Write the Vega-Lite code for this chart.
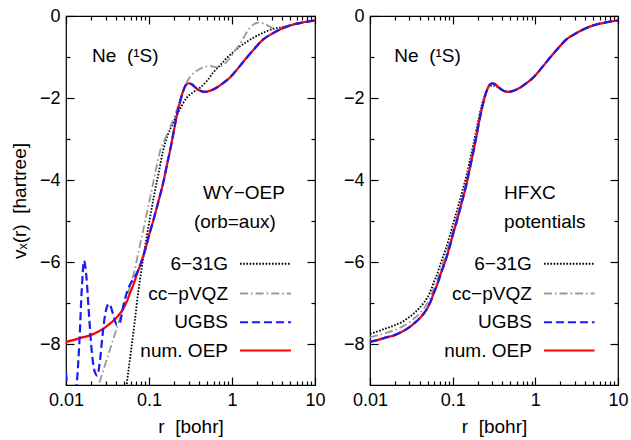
{
  "$schema": "https://vega.github.io/schema/vega-lite/v6.json",
  "padding": {"left": 9, "top": 6, "right": 5, "bottom": 5},
  "spacing": 16,
  "config": {
    "view": {"stroke": "black", "strokeWidth": 1.2},
    "axis": {"labelFont": "Liberation Sans", "labelFontSize": 18, "labelColor": "black", "titleFont": "Liberation Sans", "titleFontSize": 19, "titleFontWeight": "normal", "titleColor": "black", "domain": false, "grid": false, "tickColor": "black", "tickWidth": 1.2, "labelFlush": false, "labelOverlap": false},
    "text": {"font": "Liberation Sans", "fontSize": 19, "color": "black"}
  },
  "datasets": {
    "OEP": [
      {"r":0.01,"v":-7.95},{"r":0.0125,"v":-7.90},{"r":0.015,"v":-7.85},{"r":0.0195,"v":-7.79},{"r":0.025,"v":-7.69},{"r":0.03,"v":-7.59},{"r":0.035,"v":-7.48},{"r":0.04,"v":-7.37},{"r":0.045,"v":-7.25},{"r":0.049,"v":-7.14},{"r":0.055,"v":-6.93},{"r":0.059,"v":-6.76},{"r":0.065,"v":-6.55},{"r":0.072,"v":-6.28},{"r":0.0817,"v":-5.97},{"r":0.092,"v":-5.63},{"r":0.1,"v":-5.35},{"r":0.113,"v":-4.98},{"r":0.13,"v":-4.52},{"r":0.149,"v":-4.05},{"r":0.165,"v":-3.62},{"r":0.179,"v":-3.29},{"r":0.196,"v":-2.88},{"r":0.215,"v":-2.45},{"r":0.236,"v":-2.10},{"r":0.255,"v":-1.86},{"r":0.275,"v":-1.70},{"r":0.3,"v":-1.64},{"r":0.33,"v":-1.67},{"r":0.37,"v":-1.76},{"r":0.42,"v":-1.83},{"r":0.47,"v":-1.85},{"r":0.55,"v":-1.82},{"r":0.65,"v":-1.75},{"r":0.78,"v":-1.64},{"r":0.946,"v":-1.50},{"r":1.2,"v":-1.26},{"r":1.5,"v":-1.02},{"r":1.9,"v":-0.78},{"r":2.38,"v":-0.57},{"r":3.0,"v":-0.44},{"r":3.79,"v":-0.33},{"r":5.0,"v":-0.23},{"r":7.0,"v":-0.16},{"r":10,"v":-0.11}
    ],
    "LUGBS": [
      {"r":0.01,"v":-8.70},{"r":0.0104,"v":-9.1},{"r":0.011,"v":-9.5},{"r":0.0118,"v":-9.65},{"r":0.0127,"v":-9.4},{"r":0.0135,"v":-8.95},{"r":0.0145,"v":-7.95},{"r":0.0155,"v":-6.65},{"r":0.0165,"v":-5.97},{"r":0.0176,"v":-6.35},{"r":0.0188,"v":-7.2},{"r":0.0204,"v":-8.16},{"r":0.022,"v":-8.65},{"r":0.0238,"v":-8.77},{"r":0.0255,"v":-8.45},{"r":0.0275,"v":-7.8},{"r":0.0298,"v":-7.25},{"r":0.033,"v":-7.02},{"r":0.037,"v":-7.27},{"r":0.0408,"v":-7.53},{"r":0.0445,"v":-7.48},{"r":0.049,"v":-7.07},{"r":0.055,"v":-6.70},{"r":0.0619,"v":-6.48},{"r":0.0678,"v":-6.35},{"r":0.075,"v":-6.18},{"r":0.0817,"v":-5.97},{"r":0.092,"v":-5.63},{"r":0.1,"v":-5.35},{"r":0.113,"v":-4.98},{"r":0.13,"v":-4.52},{"r":0.149,"v":-4.05},{"r":0.165,"v":-3.62},{"r":0.179,"v":-3.29},{"r":0.196,"v":-2.88},{"r":0.215,"v":-2.45},{"r":0.236,"v":-2.10},{"r":0.255,"v":-1.86},{"r":0.275,"v":-1.70},{"r":0.3,"v":-1.64},{"r":0.33,"v":-1.67},{"r":0.37,"v":-1.76},{"r":0.42,"v":-1.83},{"r":0.47,"v":-1.85},{"r":0.55,"v":-1.82},{"r":0.65,"v":-1.75},{"r":0.78,"v":-1.64},{"r":0.946,"v":-1.50},{"r":1.2,"v":-1.26},{"r":1.5,"v":-1.02},{"r":1.9,"v":-0.78},{"r":2.38,"v":-0.57},{"r":3.0,"v":-0.44},{"r":3.79,"v":-0.33},{"r":5.0,"v":-0.23},{"r":7.0,"v":-0.16},{"r":10,"v":-0.11}
    ],
    "LVQZ": [
      {"r":0.022,"v":-9.3},{"r":0.0245,"v":-9.02},{"r":0.03,"v":-8.47},{"r":0.04,"v":-7.67},{"r":0.05,"v":-7.06},{"r":0.0619,"v":-6.46},{"r":0.0647,"v":-6.33},{"r":0.075,"v":-5.74},{"r":0.0938,"v":-4.83},{"r":0.113,"v":-4.05},{"r":0.136,"v":-3.29},{"r":0.16,"v":-2.95},{"r":0.179,"v":-2.72},{"r":0.21,"v":-2.36},{"r":0.236,"v":-2.07},{"r":0.26,"v":-1.82},{"r":0.285,"v":-1.62},{"r":0.33,"v":-1.43},{"r":0.411,"v":-1.29},{"r":0.543,"v":-1.22},{"r":0.65,"v":-1.25},{"r":0.75,"v":-1.22},{"r":0.85,"v":-1.13},{"r":0.946,"v":-1.02},{"r":1.1,"v":-0.83},{"r":1.31,"v":-0.61},{"r":1.5,"v":-0.40},{"r":1.73,"v":-0.24},{"r":2.07,"v":-0.16},{"r":2.4,"v":-0.18},{"r":2.74,"v":-0.24},{"r":3.1,"v":-0.30},{"r":3.45,"v":-0.33},{"r":4.0,"v":-0.29},{"r":5.0,"v":-0.23},{"r":7.0,"v":-0.16},{"r":10,"v":-0.11}
    ],
    "L631": [
      {"r":0.05,"v":-9.6},{"r":0.0538,"v":-9.0},{"r":0.06,"v":-8.25},{"r":0.0678,"v":-7.40},{"r":0.0743,"v":-6.72},{"r":0.078,"v":-6.42},{"r":0.085,"v":-5.92},{"r":0.093,"v":-5.43},{"r":0.103,"v":-4.91},{"r":0.115,"v":-4.38},{"r":0.13,"v":-3.85},{"r":0.146,"v":-3.33},{"r":0.165,"v":-2.95},{"r":0.196,"v":-2.60},{"r":0.235,"v":-2.28},{"r":0.285,"v":-1.99},{"r":0.34,"v":-1.86},{"r":0.411,"v":-1.75},{"r":0.5,"v":-1.58},{"r":0.593,"v":-1.38},{"r":0.72,"v":-1.20},{"r":0.86,"v":-1.03},{"r":1.05,"v":-0.87},{"r":1.25,"v":-0.74},{"r":1.5,"v":-0.63},{"r":1.81,"v":-0.53},{"r":2.2,"v":-0.44},{"r":2.62,"v":-0.37},{"r":3.2,"v":-0.31},{"r":4.0,"v":-0.27},{"r":5.0,"v":-0.23},{"r":7.0,"v":-0.16},{"r":10,"v":-0.11}
    ],
    "RVQZ": [
      {"r":0.01,"v":-7.84},{"r":0.0125,"v":-7.79},{"r":0.015,"v":-7.74},{"r":0.0195,"v":-7.67},{"r":0.025,"v":-7.57},{"r":0.03,"v":-7.47},{"r":0.035,"v":-7.36},{"r":0.04,"v":-7.25},{"r":0.045,"v":-7.13},{"r":0.049,"v":-7.02},{"r":0.055,"v":-6.81},{"r":0.059,"v":-6.64},{"r":0.065,"v":-6.43},{"r":0.072,"v":-6.16},{"r":0.0817,"v":-5.85},{"r":0.092,"v":-5.51},{"r":0.1,"v":-5.24},{"r":0.113,"v":-4.87},{"r":0.13,"v":-4.42},{"r":0.149,"v":-3.96},{"r":0.165,"v":-3.54},{"r":0.179,"v":-3.21},{"r":0.196,"v":-2.81},{"r":0.215,"v":-2.39},{"r":0.236,"v":-2.06},{"r":0.255,"v":-1.84},{"r":0.275,"v":-1.71},{"r":0.3,"v":-1.67},{"r":0.33,"v":-1.69},{"r":0.37,"v":-1.77},{"r":0.42,"v":-1.83},{"r":0.47,"v":-1.85},{"r":0.55,"v":-1.82},{"r":0.65,"v":-1.75},{"r":0.78,"v":-1.64},{"r":0.946,"v":-1.50},{"r":1.2,"v":-1.26},{"r":1.5,"v":-1.02},{"r":1.9,"v":-0.78},{"r":2.38,"v":-0.57},{"r":3.0,"v":-0.44},{"r":3.79,"v":-0.33},{"r":5.0,"v":-0.23},{"r":7.0,"v":-0.16},{"r":10,"v":-0.11}
    ],
    "R631": [
      {"r":0.01,"v":-7.75},{"r":0.0125,"v":-7.69},{"r":0.015,"v":-7.63},{"r":0.0195,"v":-7.55},{"r":0.025,"v":-7.45},{"r":0.03,"v":-7.34},{"r":0.035,"v":-7.23},{"r":0.04,"v":-7.11},{"r":0.045,"v":-6.99},{"r":0.049,"v":-6.88},{"r":0.055,"v":-6.67},{"r":0.059,"v":-6.50},{"r":0.065,"v":-6.29},{"r":0.072,"v":-6.02},{"r":0.0817,"v":-5.71},{"r":0.092,"v":-5.37},{"r":0.1,"v":-5.11},{"r":0.113,"v":-4.74},{"r":0.13,"v":-4.29},{"r":0.149,"v":-3.84},{"r":0.165,"v":-3.43},{"r":0.179,"v":-3.11},{"r":0.196,"v":-2.72},{"r":0.215,"v":-2.33},{"r":0.236,"v":-2.03},{"r":0.255,"v":-1.84},{"r":0.275,"v":-1.73},{"r":0.3,"v":-1.70},{"r":0.33,"v":-1.71},{"r":0.37,"v":-1.77},{"r":0.42,"v":-1.83},{"r":0.47,"v":-1.85},{"r":0.55,"v":-1.82},{"r":0.65,"v":-1.75},{"r":0.78,"v":-1.64},{"r":0.946,"v":-1.50},{"r":1.2,"v":-1.26},{"r":1.5,"v":-1.02},{"r":1.9,"v":-0.78},{"r":2.38,"v":-0.57},{"r":3.0,"v":-0.44},{"r":3.79,"v":-0.33},{"r":5.0,"v":-0.23},{"r":7.0,"v":-0.16},{"r":10,"v":-0.11}
    ],
    "key": [
      {"s":"631G","lab":"6−31G","v":-6.04},
      {"s":"VQZ","lab":"cc−pVQZ","v":-6.77},
      {"s":"UGBS","lab":"UGBS","v":-7.47},
      {"s":"OEP","lab":"num. OEP","v":-8.16}
    ],
    "notesL": [
      {"t":"Ne\u00a0\u00a0(¹S)","r":0.0206,"v":-0.97},
      {"t":"WY−OEP","r":0.448,"v":-4.31},
      {"t":"(orb=aux)","r":0.348,"v":-5.03}
    ],
    "notesR": [
      {"t":"Ne\u00a0\u00a0(¹S)","r":0.0197,"v":-0.97},
      {"t":"HFXC","r":0.419,"v":-4.31},
      {"t":"potentials","r":0.419,"v":-5.03}
    ]
  },
  "hconcat": [
    {
      "width": 249, "height": 369,
      "resolve": {"axis": {"x": "independent", "y": "independent"}},
      "layer": [
        {"data": {"name": "L631"}, "mark": {"type": "line", "clip": true, "color": "black", "strokeWidth": 1.8, "strokeDash": [1.6, 1.6], "interpolate": "monotone"},
         "encoding": {
           "x": {"field": "r", "type": "quantitative", "scale": {"type": "log", "domain": [0.01, 10], "nice": false}, "axis": {"orient": "bottom", "values": [0.01, 0.1, 1, 10], "format": "~g", "tickSize": -8, "labelPadding": 14, "title": "r\u00a0\u00a0[bohr]", "titlePadding": 8}},
           "y": {"field": "v", "type": "quantitative", "scale": {"domain": [-9, 0], "nice": false, "zero": false}, "axis": {"orient": "left", "values": [0, -2, -4, -6, -8], "format": "d", "tickSize": -8, "labelPadding": 14, "title": "vₓ(r)\u00a0\u00a0[hartree]", "titlePadding": 10}}}},
        {"data": {"name": "LVQZ"}, "mark": {"type": "line", "clip": true, "color": "#999999", "strokeWidth": 1.8, "strokeDash": [8, 3, 1.6, 3], "interpolate": "monotone"},
         "encoding": {
           "x": {"field": "r", "type": "quantitative", "scale": {"type": "log", "domain": [0.01, 10], "nice": false}, "axis": {"orient": "bottom", "values": [0.02,0.03,0.04,0.05,0.06,0.07,0.08,0.09,0.2,0.3,0.4,0.5,0.6,0.7,0.8,0.9,2,3,4,5,6,7,8,9], "labels": false, "tickSize": -4, "title": null}},
           "y": {"field": "v", "type": "quantitative", "scale": {"domain": [-9, 0], "nice": false, "zero": false}, "axis": {"orient": "left", "values": [-1, -3, -5, -7], "labels": false, "tickSize": -4, "title": null}}}},
        {"data": {"name": "OEP"}, "mark": {"type": "line", "clip": true, "color": "#ff0000", "strokeWidth": 2.2, "interpolate": "monotone"},
         "encoding": {
           "x": {"field": "r", "type": "quantitative", "scale": {"type": "log", "domain": [0.01, 10], "nice": false}, "axis": {"orient": "top", "values": [0.01, 0.1, 1, 10], "labels": false, "tickSize": -8, "title": null}},
           "y": {"field": "v", "type": "quantitative", "scale": {"domain": [-9, 0], "nice": false, "zero": false}, "axis": {"orient": "right", "values": [0, -2, -4, -6, -8], "labels": false, "tickSize": -8, "title": null}}}},
        {"data": {"name": "LUGBS"}, "mark": {"type": "line", "clip": true, "color": "#1a1af5", "strokeWidth": 2.2, "strokeDash": [8, 4], "interpolate": "monotone"},
         "encoding": {
           "x": {"field": "r", "type": "quantitative", "scale": {"type": "log", "domain": [0.01, 10], "nice": false}, "axis": {"orient": "top", "values": [0.02,0.03,0.04,0.05,0.06,0.07,0.08,0.09,0.2,0.3,0.4,0.5,0.6,0.7,0.8,0.9,2,3,4,5,6,7,8,9], "labels": false, "tickSize": -4, "title": null}},
           "y": {"field": "v", "type": "quantitative", "scale": {"domain": [-9, 0], "nice": false, "zero": false}, "axis": {"orient": "right", "values": [-1, -3, -5, -7], "labels": false, "tickSize": -4, "title": null}}}},
        {"data": {"name": "key"}, "mark": {"type": "rule", "strokeWidth": 2},
         "encoding": {
           "x": {"datum": 1.25, "type": "quantitative", "scale": {"type": "log", "domain": [0.01, 10], "nice": false}, "axis": null},
           "x2": {"datum": 5.14},
           "y": {"field": "v", "type": "quantitative", "scale": {"domain": [-9, 0], "nice": false, "zero": false}, "axis": null},
           "color": {"field": "s", "type": "nominal", "scale": {"domain": ["631G", "VQZ", "UGBS", "OEP"], "range": ["black", "#999999", "#1a1af5", "#ff0000"]}, "legend": null},
           "strokeDash": {"field": "s", "type": "nominal", "scale": {"domain": ["631G", "VQZ", "UGBS", "OEP"], "range": [[1.6, 1.6], [8, 3, 1.6, 3], [8, 4], [1, 0]]}, "legend": null}}},
        {"data": {"name": "key"}, "mark": {"type": "text", "align": "right", "baseline": "middle"},
         "encoding": {
           "x": {"datum": 0.895, "type": "quantitative", "scale": {"type": "log", "domain": [0.01, 10], "nice": false}, "axis": null},
           "y": {"field": "v", "type": "quantitative", "scale": {"domain": [-9, 0], "nice": false, "zero": false}, "axis": null},
           "text": {"field": "lab"}}},
        {"data": {"name": "notesL"}, "mark": {"type": "text", "align": "left", "baseline": "middle"},
         "encoding": {
           "x": {"field": "r", "type": "quantitative", "scale": {"type": "log", "domain": [0.01, 10], "nice": false}, "axis": null},
           "y": {"field": "v", "type": "quantitative", "scale": {"domain": [-9, 0], "nice": false, "zero": false}, "axis": null},
           "text": {"field": "t"}}}
      ]
    },
    {
      "width": 248, "height": 369,
      "resolve": {"axis": {"x": "independent", "y": "independent"}},
      "layer": [
        {"data": {"name": "R631"}, "mark": {"type": "line", "clip": true, "color": "black", "strokeWidth": 1.8, "strokeDash": [1.6, 1.6], "interpolate": "monotone"},
         "encoding": {
           "x": {"field": "r", "type": "quantitative", "scale": {"type": "log", "domain": [0.01, 10], "nice": false}, "axis": {"orient": "bottom", "values": [0.01, 0.1, 1, 10], "format": "~g", "tickSize": -8, "labelPadding": 14, "title": "r\u00a0\u00a0[bohr]", "titlePadding": 8}},
           "y": {"field": "v", "type": "quantitative", "scale": {"domain": [-9, 0], "nice": false, "zero": false}, "axis": {"orient": "left", "values": [0, -2, -4, -6, -8], "format": "d", "tickSize": -8, "labelPadding": 14, "title": null}}}},
        {"data": {"name": "RVQZ"}, "mark": {"type": "line", "clip": true, "color": "#999999", "strokeWidth": 1.8, "strokeDash": [8, 3, 1.6, 3], "interpolate": "monotone"},
         "encoding": {
           "x": {"field": "r", "type": "quantitative", "scale": {"type": "log", "domain": [0.01, 10], "nice": false}, "axis": {"orient": "bottom", "values": [0.02,0.03,0.04,0.05,0.06,0.07,0.08,0.09,0.2,0.3,0.4,0.5,0.6,0.7,0.8,0.9,2,3,4,5,6,7,8,9], "labels": false, "tickSize": -4, "title": null}},
           "y": {"field": "v", "type": "quantitative", "scale": {"domain": [-9, 0], "nice": false, "zero": false}, "axis": {"orient": "left", "values": [-1, -3, -5, -7], "labels": false, "tickSize": -4, "title": null}}}},
        {"data": {"name": "OEP"}, "mark": {"type": "line", "clip": true, "color": "#ff0000", "strokeWidth": 2.2, "interpolate": "monotone"},
         "encoding": {
           "x": {"field": "r", "type": "quantitative", "scale": {"type": "log", "domain": [0.01, 10], "nice": false}, "axis": {"orient": "top", "values": [0.01, 0.1, 1, 10], "labels": false, "tickSize": -8, "title": null}},
           "y": {"field": "v", "type": "quantitative", "scale": {"domain": [-9, 0], "nice": false, "zero": false}, "axis": {"orient": "right", "values": [0, -2, -4, -6, -8], "labels": false, "tickSize": -8, "title": null}}}},
        {"data": {"name": "OEP"}, "mark": {"type": "line", "clip": true, "color": "#1a1af5", "strokeWidth": 2.2, "strokeDash": [8, 4], "interpolate": "monotone"},
         "encoding": {
           "x": {"field": "r", "type": "quantitative", "scale": {"type": "log", "domain": [0.01, 10], "nice": false}, "axis": {"orient": "top", "values": [0.02,0.03,0.04,0.05,0.06,0.07,0.08,0.09,0.2,0.3,0.4,0.5,0.6,0.7,0.8,0.9,2,3,4,5,6,7,8,9], "labels": false, "tickSize": -4, "title": null}},
           "y": {"field": "v", "type": "quantitative", "scale": {"domain": [-9, 0], "nice": false, "zero": false}, "axis": {"orient": "right", "values": [-1, -3, -5, -7], "labels": false, "tickSize": -4, "title": null}}}},
        {"data": {"name": "key"}, "mark": {"type": "rule", "strokeWidth": 2},
         "encoding": {
           "x": {"datum": 1.27, "type": "quantitative", "scale": {"type": "log", "domain": [0.01, 10], "nice": false}, "axis": null},
           "x2": {"datum": 5.2},
           "y": {"field": "v", "type": "quantitative", "scale": {"domain": [-9, 0], "nice": false, "zero": false}, "axis": null},
           "color": {"field": "s", "type": "nominal", "scale": {"domain": ["631G", "VQZ", "UGBS", "OEP"], "range": ["black", "#999999", "#1a1af5", "#ff0000"]}, "legend": null},
           "strokeDash": {"field": "s", "type": "nominal", "scale": {"domain": ["631G", "VQZ", "UGBS", "OEP"], "range": [[1.6, 1.6], [8, 3, 1.6, 3], [8, 4], [1, 0]]}, "legend": null}}},
        {"data": {"name": "key"}, "mark": {"type": "text", "align": "right", "baseline": "middle"},
         "encoding": {
           "x": {"datum": 0.907, "type": "quantitative", "scale": {"type": "log", "domain": [0.01, 10], "nice": false}, "axis": null},
           "y": {"field": "v", "type": "quantitative", "scale": {"domain": [-9, 0], "nice": false, "zero": false}, "axis": null},
           "text": {"field": "lab"}}},
        {"data": {"name": "notesR"}, "mark": {"type": "text", "align": "left", "baseline": "middle"},
         "encoding": {
           "x": {"field": "r", "type": "quantitative", "scale": {"type": "log", "domain": [0.01, 10], "nice": false}, "axis": null},
           "y": {"field": "v", "type": "quantitative", "scale": {"domain": [-9, 0], "nice": false, "zero": false}, "axis": null},
           "text": {"field": "t"}}}
      ]
    }
  ]
}
